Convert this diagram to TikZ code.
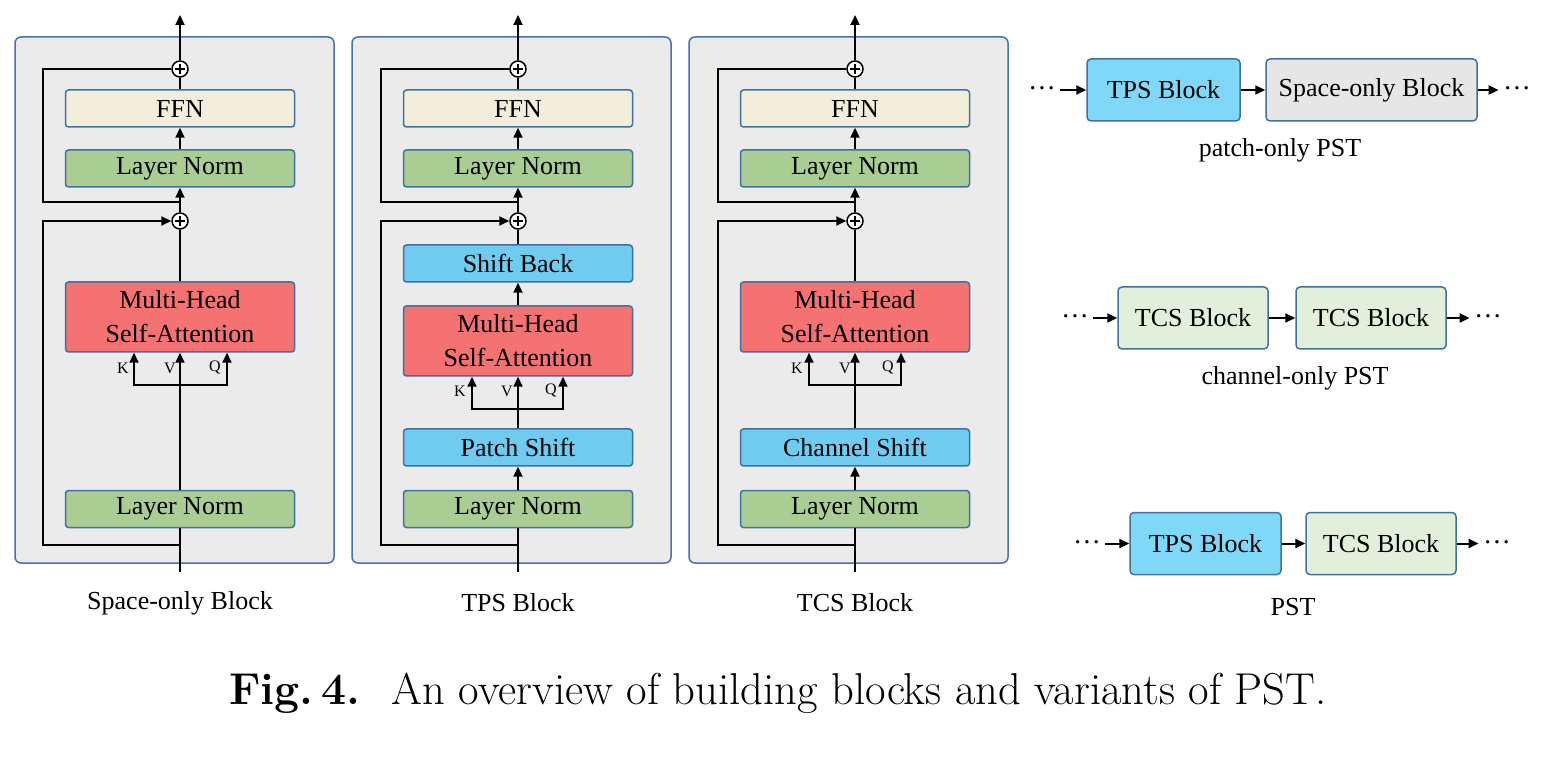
\documentclass[tikz,border=0pt]{standalone}
\usepackage{fontspec}
\newfontfamily\tnr{Liberation Serif}
\usetikzlibrary{arrows.meta,calc}
\definecolor{panelf}{HTML}{EBEBEB}
\definecolor{panelb}{HTML}{4A72A8}
\definecolor{bordc}{HTML}{41719C}
\definecolor{ffnc}{HTML}{F3EDDC}
\definecolor{lnc}{HTML}{A9CD93}
\definecolor{mhc}{HTML}{F47272}
\definecolor{shc}{HTML}{70CCEE}
\definecolor{tpsc}{HTML}{7FD8F8}
\definecolor{soc}{HTML}{E6E6E6}
\definecolor{tcsc}{HTML}{E2EFDA}
\begin{document}
\begin{tikzpicture}[x=0.5pt,y=-0.5pt,
  conn/.style={line width=1pt},
  arr/.style={line width=1pt,-{Triangle[length=5pt,width=4.5pt]}},
  blk/.style={draw=bordc,line width=0.75pt,rounded corners=1.5pt,minimum width=114.5pt,minimum height=18.5pt,inner sep=0pt,align=center,font=\tnr\fontsize{13}{17}\selectfont},
  tall/.style={minimum height=35pt},
  plus/.style={circle,draw,fill=white,line width=0.75pt,minimum size=8pt,inner sep=0pt,
    path picture={\draw[line width=0.6pt] ([xshift=-2.6pt]path picture bounding box.center) -- ([xshift=2.6pt]path picture bounding box.center);
                  \draw[line width=0.6pt] ([yshift=-2.6pt]path picture bounding box.center) -- ([yshift=2.6pt]path picture bounding box.center);}},
  lab/.style={inner sep=0pt,font=\tnr\fontsize{8}{9}\selectfont},
  panel/.style={draw=panelb,fill=panelf,line width=0.75pt,rounded corners=3pt},
  wide/.style={draw=bordc,line width=0.75pt,rounded corners=2pt,minimum height=31pt,inner sep=0pt,font=\tnr\fontsize{13}{15}\selectfont},
  captxt/.style={inner sep=0pt,font=\tnr\fontsize{13}{15}\selectfont},
  dotsn/.style={inner sep=2pt,text height=0.8em,text depth=0pt,font=\tnr\fontsize{14}{14}\selectfont}]
\useasboundingbox (0,0) rectangle (1567,758);

% ---------------- Panel 1: Space-only Block ----------------
\draw[panel] (15,37) rectangle (334,563);
\node[plus] (pa1) at (180,69) {};
\node[blk,fill=ffnc] (ffn1) at (180,108.5) {FFN};
\node[blk,fill=lnc] (lnb1) at (180,168.5) {Layer Norm};
\node[plus] (pb1) at (180,221) {};
\node[blk,fill=mhc,tall] (mh1) at (180,317) {Multi-Head\\Self-Attention};
\node[blk,fill=lnc] (lna1) at (180,509) {Layer Norm};
\coordinate (in1) at (180,572);
\coordinate (out1) at (180,15);
\coordinate (sa1) at (180,202);
\coordinate (sb1) at (180,545);
\coordinate (j1) at (180,385);
\draw[conn] (in1) -- (lna1);
\draw[arr] (lna1) -- (mh1);
\draw[conn] (mh1) -- (pb1);
\draw[arr] (pb1) -- (lnb1);
\draw[arr] (lnb1) -- (ffn1);
\draw[conn] (ffn1) -- (pa1);
\draw[arr] (pa1) -- (out1);
\draw[conn] (sa1) -- ++(-137,0) |- (pa1);
\draw[arr] (sb1) -- ++(-137,0) |- (pb1);
\draw[arr] (j1) -| ($(mh1.south)+(-46,0)$);
\draw[arr] (j1) -| ($(mh1.south)+(47,0)$);
\node[lab] (k1) at (123,368) {K};
\node[lab] (v1) at (170,368) {V};
\node[lab] (q1) at (215,368) {Q};
\node[captxt] (t1) at (180,603) {Space-only Block};

% ---------------- Panel 2: TPS Block ----------------
\draw[panel] (352,37) rectangle (671,563);
\node[plus] (pa2) at (518,69) {};
\node[blk,fill=ffnc] (ffn2) at (518,108.5) {FFN};
\node[blk,fill=lnc] (lnb2) at (518,168.5) {Layer Norm};
\node[plus] (pb2) at (518,221) {};
\node[blk,fill=shc] (sbk2) at (518,263.5) {Shift Back};
\node[blk,fill=mhc,tall] (mh2) at (518,341) {Multi-Head\\Self-Attention};
\node[blk,fill=shc] (ps2) at (518,447.5) {Patch Shift};
\node[blk,fill=lnc] (lna2) at (518,509) {Layer Norm};
\coordinate (in2) at (518,572);
\coordinate (out2) at (518,15);
\coordinate (sa2) at (518,202);
\coordinate (sb2) at (518,545);
\coordinate (j2) at (518,409);
\draw[conn] (in2) -- (lna2);
\draw[arr] (lna2) -- (ps2);
\draw[arr] (ps2) -- (mh2);
\draw[arr] (mh2) -- (sbk2);
\draw[conn] (sbk2) -- (pb2);
\draw[arr] (pb2) -- (lnb2);
\draw[arr] (lnb2) -- (ffn2);
\draw[conn] (ffn2) -- (pa2);
\draw[arr] (pa2) -- (out2);
\draw[conn] (sa2) -- ++(-137,0) |- (pa2);
\draw[arr] (sb2) -- ++(-137,0) |- (pb2);
\draw[arr] (j2) -| ($(mh2.south)+(-46,0)$);
\draw[arr] (j2) -| ($(mh2.south)+(45,0)$);
\node[lab] (k2) at (460,391) {K};
\node[lab] (v2) at (507,391) {V};
\node[lab] (q2) at (551,391) {Q};
\node[captxt] (t2) at (518,603) {TPS Block};

% ---------------- Panel 3: TCS Block ----------------
\draw[panel] (689,37) rectangle (1008,563);
\node[plus] (pa3) at (855,69) {};
\node[blk,fill=ffnc] (ffn3) at (855,108.5) {FFN};
\node[blk,fill=lnc] (lnb3) at (855,168.5) {Layer Norm};
\node[plus] (pb3) at (855,221) {};
\node[blk,fill=mhc,tall] (mh3) at (855,317) {Multi-Head\\Self-Attention};
\node[blk,fill=shc] (cs3) at (855,447.5) {Channel Shift};
\node[blk,fill=lnc] (lna3) at (855,509) {Layer Norm};
\coordinate (in3) at (855,572);
\coordinate (out3) at (855,15);
\coordinate (sa3) at (855,202);
\coordinate (sb3) at (855,545);
\coordinate (j3) at (855,385);
\draw[conn] (in3) -- (lna3);
\draw[arr] (lna3) -- (cs3);
\draw[arr] (cs3) -- (mh3);
\draw[conn] (mh3) -- (pb3);
\draw[arr] (pb3) -- (lnb3);
\draw[arr] (lnb3) -- (ffn3);
\draw[conn] (ffn3) -- (pa3);
\draw[arr] (pa3) -- (out3);
\draw[conn] (sa3) -- ++(-137,0) |- (pa3);
\draw[arr] (sb3) -- ++(-137,0) |- (pb3);
\draw[arr] (j3) -| ($(mh3.south)+(-46,0)$);
\draw[arr] (j3) -| ($(mh3.south)+(46,0)$);
\node[lab] (k3) at (797,368) {K};
\node[lab] (v3) at (845,368) {V};
\node[lab] (q3) at (888,368) {Q};
\node[captxt] (t3) at (855,603) {TCS Block};

% ---------------- Right: variants ----------------
\node[dotsn] (d1) at (1042,90) {\textperiodcentered\textperiodcentered\textperiodcentered};
\node[wide,fill=tpsc,minimum width=76.5pt] (r1a) at (1163.5,90) {TPS Block};
\node[wide,fill=soc,minimum width=105.5pt] (r1b) at (1371.5,90) {Space-only Block};
\node[dotsn] (d2) at (1517,90) {\textperiodcentered\textperiodcentered\textperiodcentered};
\draw[arr] (d1) -- (r1a);
\draw[arr] (r1a) -- (r1b);
\draw[arr] (r1b) -- (d2);
\node[captxt] (c1) at (1280,150) {patch-only PST};

\node[dotsn] (d3) at (1075,318) {\textperiodcentered\textperiodcentered\textperiodcentered};
\node[wide,fill=tcsc,minimum width=75pt] (r2a) at (1193,318) {TCS Block};
\node[wide,fill=tcsc,minimum width=75pt] (r2b) at (1371,318) {TCS Block};
\node[dotsn] (d4) at (1488,318) {\textperiodcentered\textperiodcentered\textperiodcentered};
\draw[arr] (d3) -- (r2a);
\draw[arr] (r2a) -- (r2b);
\draw[arr] (r2b) -- (d4);
\node[captxt] (c2) at (1295,378) {channel-only PST};

\node[dotsn] (d5) at (1087,543.5) {\textperiodcentered\textperiodcentered\textperiodcentered};
\node[wide,fill=tpsc,minimum width=75.5pt] (r3a) at (1205.5,543.5) {TPS Block};
\node[wide,fill=tcsc,minimum width=75pt] (r3b) at (1381,543.5) {TCS Block};
\node[dotsn] (d6) at (1497,543.5) {\textperiodcentered\textperiodcentered\textperiodcentered};
\draw[arr] (d5) -- (r3a);
\draw[arr] (r3a) -- (r3b);
\draw[arr] (r3b) -- (d6);
\node[captxt] (c3) at (1293,607) {PST};

% ---------------- Caption ----------------
\node[inner sep=0pt,font=\fontsize{22.3}{26}\selectfont] (fig) at (778,693) {\textbf{Fig.\,4.}\hspace{0.7em}An overview of building blocks and variants of PST.};
\end{tikzpicture}
\end{document}
